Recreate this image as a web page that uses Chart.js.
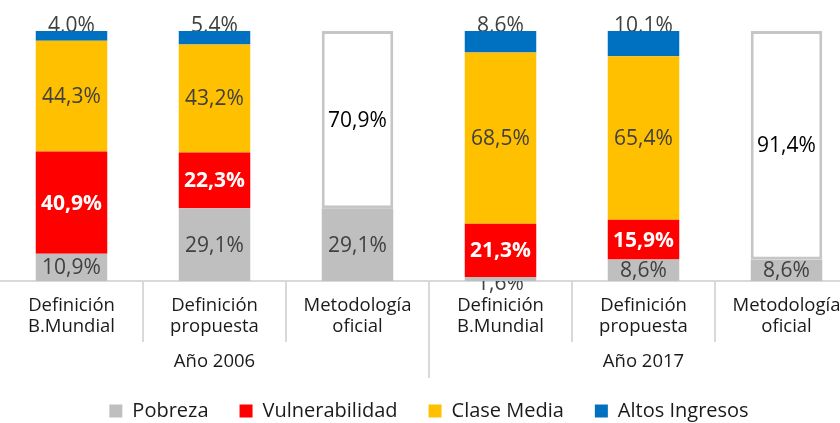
<!DOCTYPE html>
<html lang="es">
  <head>
    <meta charset="utf-8" />
    <title>Pobreza y estratos sociales</title>
    <style>
      * {
        margin: 0;
        padding: 0;
      }
      html,
      body {
        width: 840px;
        height: 423px;
        overflow: hidden;
        background: #fff;
      }
      /* a bit wider than the window: the last label is cut off like in the original */
      .chartBox {
        position: absolute;
        left: 0;
        top: 0;
        width: 858px;
        height: 423px;
      }
    </style>
  </head>
  <body>
    <div class="chartBox">
      <canvas id="myChart" width="858" height="423"></canvas>
    </div>

    <script src="https://cdn.jsdelivr.net/npm/chart.js"></script>

    <script>
      const categories = [
        ["Definición", "B.Mundial"],
        ["Definición", "propuesta"],
        ["Metodología", "oficial"],
        ["Definición", "B.Mundial"],
        ["Definición", "propuesta"],
        ["Metodología", "oficial"],
      ];
      const years = ["Año 2006", "Año 2017"];

      const pobreza = [10.9, 29.1, 29.1, 1.6, 8.6, 8.6];
      const vulnerabilidad = [40.9, 22.3, null, 21.3, 15.9, null];
      const claseMedia = [44.3, 43.2, null, 68.5, 65.4, null];
      const altosIngresos = [4.0, 5.4, null, 8.6, 10.1, null];
      // metodología oficial: everything above the poverty line
      const noPobres = [null, null, 70.9, null, null, 91.4];

      const FONT = "'Open Sans', sans-serif";
      const GRID = "#d9d9d9";

      const fmt = (v) => v.toFixed(1).replace(".", ",") + "%";

      // data block
      const data = {
        labels: categories,
        datasets: [
          { label: "Pobreza", data: pobreza, backgroundColor: "#bfbfbf" },
          { label: "Vulnerabilidad", data: vulnerabilidad, backgroundColor: "#ff0000" },
          { label: "Clase Media", data: claseMedia, backgroundColor: "#ffc000" },
          { label: "Altos Ingresos", data: altosIngresos, backgroundColor: "#0070c0" },
          {
            label: "No pobres",
            data: noPobres,
            backgroundColor: "#ffffff",
            borderColor: "#c6c6c6",
            borderWidth: 3,
            borderSkipped: false,
          },
        ].map((ds) => ({ barPercentage: 0.5, categoryPercentage: 1, ...ds })),
      };

      // label style per dataset
      const labelStyle = [
        { color: "#404040", weight: "normal" },
        { color: "#ffffff", weight: "bold" },
        { color: "#404040", weight: "normal" },
        { color: "#404040", weight: "normal" },
        { color: "#000000", weight: "normal" },
      ];

      // labels that sit outside the bar are drawn first, so the bar covers them a little
      function drawLabels(chart, outside) {
        const { ctx } = chart;
        ctx.save();
        ctx.textAlign = "center";
        chart.data.datasets.forEach((ds, d) => {
          const meta = chart.getDatasetMeta(d);
          meta.data.forEach((bar, i) => {
            const v = ds.data[i];
            if (v == null) return;
            const top = Math.min(bar.y, bar.base);
            const bottom = Math.max(bar.y, bar.base);
            const h = bottom - top;
            const isTop = d === 3;
            const isTiny = d === 0 && h < 10;
            if ((isTop || isTiny) !== outside) return;
            ctx.font = `${labelStyle[d].weight} 21px ${FONT}`;
            ctx.fillStyle = labelStyle[d].color;
            if (isTop) {
              ctx.textBaseline = "alphabetic";
              ctx.fillText(fmt(v), bar.x, top + 1);
            } else if (isTiny) {
              ctx.textBaseline = "alphabetic";
              ctx.fillText(fmt(v), bar.x, bottom + 9);
            } else {
              ctx.textBaseline = "middle";
              ctx.fillText(fmt(v), bar.x, (top + bottom) / 2 + 1);
            }
          });
        });
        ctx.restore();
      }

      const barLabels = {
        id: "barLabels",
        beforeDatasetsDraw(chart) {
          drawLabels(chart, true);
        },
        afterDatasetsDraw(chart) {
          drawLabels(chart, false);
        },
      };

      // category dividers + year labels under the axis
      const groupAxis = {
        id: "groupAxis",
        afterDraw(chart) {
          const { ctx, chartArea } = chart;
          const x = chart.scales.x;
          const y0 = chartArea.bottom;
          ctx.save();
          ctx.strokeStyle = GRID;
          ctx.lineWidth = 2;
          for (let i = 1; i < categories.length; i++) {
            const px = (x.getPixelForValue(i - 1) + x.getPixelForValue(i)) / 2;
            const len = i % 3 === 0 ? 97 : 61;
            ctx.beginPath();
            ctx.moveTo(Math.round(px), y0);
            ctx.lineTo(Math.round(px), y0 + len);
            ctx.stroke();
          }
          ctx.font = `18.5px ${FONT}`;
          ctx.fillStyle = "#1a1a1a";
          ctx.textAlign = "center";
          ctx.textBaseline = "middle";
          years.forEach((yr, g) => {
            ctx.fillText(yr, x.getPixelForValue(g * 3 + 1), y0 + 81);
          });
          ctx.restore();
        },
      };

      // legend sits low, its built-in box is too tall for the space left
      const legendHeight = {
        id: "legendHeight",
        beforeInit(chart) {
          const fit = chart.legend.fit;
          chart.legend.fit = function () {
            fit.bind(chart.legend)();
            this.height = 53;
          };
        },
      };

      // config block
      const config = {
        type: "bar",
        data: data,
        options: {
          responsive: false,
          animation: false,
          layout: { padding: { top: 31, left: 0, right: 0, bottom: 0 } },
          scales: {
            x: {
              stacked: true,
              offset: true,
              grid: { drawOnChartArea: false, drawTicks: false, color: "rgba(0,0,0,0)" },
              border: { display: true, color: GRID, width: 2 },
              ticks: {
                font: { family: FONT, size: 18.5, lineHeight: 1.1 },
                color: "#1a1a1a",
                padding: 15,
                maxRotation: 0,
                autoSkip: false,
              },
              afterFit(scale) {
                scale.height = 89;
              },
            },
            y: { display: false, stacked: true, min: 0, max: 100 },
          },
          plugins: {
            tooltip: { enabled: false },
            legend: {
              position: "bottom",
              labels: {
                font: { family: FONT, size: 20 },
                color: "#1a1a1a",
                boxWidth: 13,
                boxHeight: 13,
                padding: 31,
                filter: (item) => item.datasetIndex < 4,
              },
            },
          },
        },
        plugins: [legendHeight, barLabels, groupAxis],
      };

      // init render block
      const myChart = new Chart(document.getElementById("myChart"), config);
    </script>
  </body>
</html>
